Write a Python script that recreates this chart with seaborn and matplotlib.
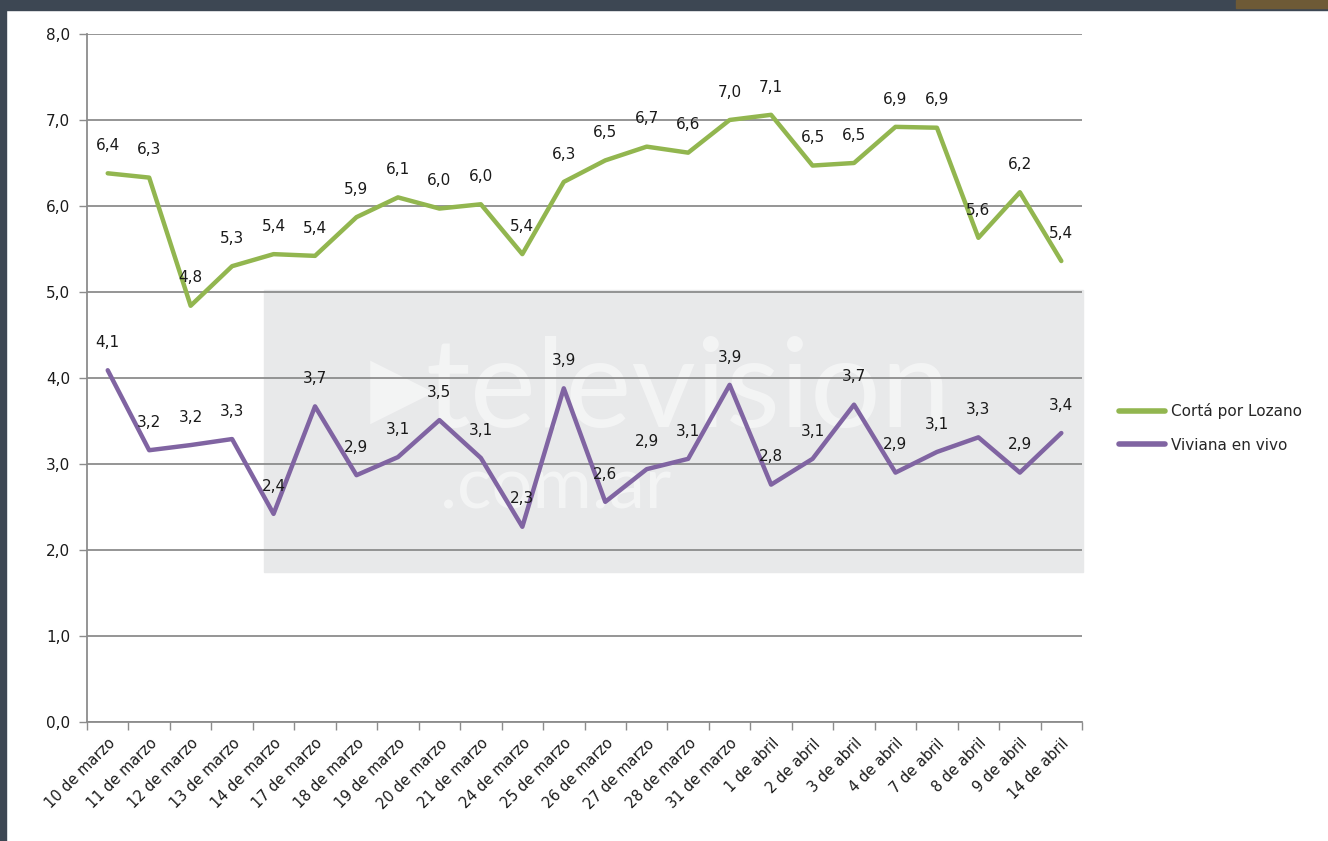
import pandas as pd
import matplotlib.pyplot as plt
import seaborn as sns
from matplotlib.patches import Rectangle
from matplotlib.ticker import FixedLocator, MultipleLocator, FuncFormatter

# fechas y ratings
fechas = ["10 de marzo", "11 de marzo", "12 de marzo", "13 de marzo", "14 de marzo",
          "17 de marzo", "18 de marzo", "19 de marzo", "20 de marzo", "21 de marzo",
          "24 de marzo", "25 de marzo", "26 de marzo", "27 de marzo", "28 de marzo",
          "31 de marzo", "1 de abril", "2 de abril", "3 de abril", "4 de abril",
          "7 de abril", "8 de abril", "9 de abril", "14 de abril"]
corta = [6.38, 6.33, 4.84, 5.30, 5.44, 5.42, 5.87, 6.10, 5.97, 6.02, 5.44, 6.28,
         6.53, 6.69, 6.62, 7.00, 7.06, 6.47, 6.50, 6.92, 6.91, 5.63, 6.16, 5.36]
viviana = [4.09, 3.16, 3.22, 3.29, 2.42, 3.67, 2.87, 3.08, 3.51, 3.07, 2.27, 3.88,
           2.56, 2.94, 3.06, 3.92, 2.76, 3.06, 3.69, 2.90, 3.14, 3.31, 2.90, 3.36]
series = ["Cortá por Lozano", "Viviana en vivo"]
colores = ["#92b64f", "#8064a2"]

df = pd.DataFrame({
    "fecha": fechas * 2,
    "rating": corta + viviana,
    "programa": [series[0]] * len(fechas) + [series[1]] * len(fechas),
})

sns.set_theme(style="white")
plt.rcParams["font.family"] = ["DejaVu Sans"]

fig = plt.figure(figsize=(13.28, 8.41), dpi=100)
ax = fig.add_axes([0.0655, 0.1415, 0.7493, 0.8181])

# marco oscuro de la captura
fig.patches.append(Rectangle((0, 1 - 10 / 841), 1, 10 / 841, transform=fig.transFigure,
                             color="#3d4753", zorder=-2))
fig.patches.append(Rectangle((0, 0), 6 / 1328, 1, transform=fig.transFigure,
                             color="#3d4753", zorder=-2))
fig.patches.append(Rectangle((1236 / 1328, 1 - 8 / 841), 92 / 1328, 8 / 841,
                             transform=fig.transFigure, color="#6e5a36", zorder=-2))

# marca de agua (detras del grafico)
fig.patches.append(Rectangle((264 / 1328, 1 - 572 / 841), (1083 - 264) / 1328, 282 / 841,
                             transform=fig.transFigure, color="#e8e9ea", zorder=-2))
fig.text(370 / 1328, 1 - 390 / 841, "\u25b6", fontsize=60, color="white", alpha=0.5,
         family="DejaVu Sans", va="center", ha="left", zorder=-1)
fig.text(425 / 1328, 1 - 392 / 841, "television", fontsize=90, color="white", alpha=0.5,
         family="Lato", va="center", ha="left", zorder=-1)
fig.text(440 / 1328, 1 - 488 / 841, ".com.ar", fontsize=52, color="white", alpha=0.5,
         family="Lato", va="center", ha="left", zorder=-1)
ax.patch.set_alpha(0)

sns.lineplot(data=df, x="fecha", y="rating", hue="programa", palette=colores,
             sort=False, linewidth=3.2, ax=ax, zorder=3)

for vals, col in zip([corta, viviana], colores):
    for i, v in enumerate(vals):
        ax.annotate(f"{v:.1f}".replace(".", ","), (i, v), xytext=(0, 20),
                    textcoords="offset points", ha="center", va="center",
                    fontsize=11, color="#1a1a1a", zorder=4)

ax.set_xlim(-0.5, len(fechas) - 0.5)
ax.set_ylim(0, 8)
ax.yaxis.set_major_locator(MultipleLocator(1))
ax.yaxis.set_major_formatter(FuncFormatter(lambda v, p: f"{v:.1f}".replace(".", ",")))
ax.grid(axis="y", color="#8c8c8c", linewidth=1.3)
ax.grid(axis="x", visible=False)
ax.set_axisbelow(True)

ax.set_xticks(range(len(fechas)))
ax.set_xticklabels(fechas, rotation=45, ha="right", rotation_mode="anchor", fontsize=10.5,
                   color="#1a1a1a")
ax.xaxis.set_minor_locator(FixedLocator([i - 0.5 for i in range(len(fechas) + 1)]))
ax.tick_params(axis="x", which="major", length=0, pad=10)
ax.tick_params(axis="x", which="minor", length=6, width=1, color="#8c8c8c", bottom=True)
ax.tick_params(axis="y", length=6, width=1, color="#8c8c8c", left=True, labelsize=11,
               labelcolor="#1a1a1a", pad=6)

for s in ["top", "right"]:
    ax.spines[s].set_visible(False)
for s in ["left", "bottom"]:
    ax.spines[s].set_color("#8c8c8c")
    ax.spines[s].set_linewidth(1.3)

ax.set_xlabel("")
ax.set_ylabel("")
leg = ax.legend(loc="center left", bbox_to_anchor=(1105 / 1328, 1 - 428 / 841),
                bbox_transform=fig.transFigure, frameon=False, fontsize=11,
                handlelength=3, handletextpad=0.4, labelspacing=1.2)
for line in leg.get_lines():
    line.set_linewidth(4)

fig.savefig("out.png", dpi=100)
